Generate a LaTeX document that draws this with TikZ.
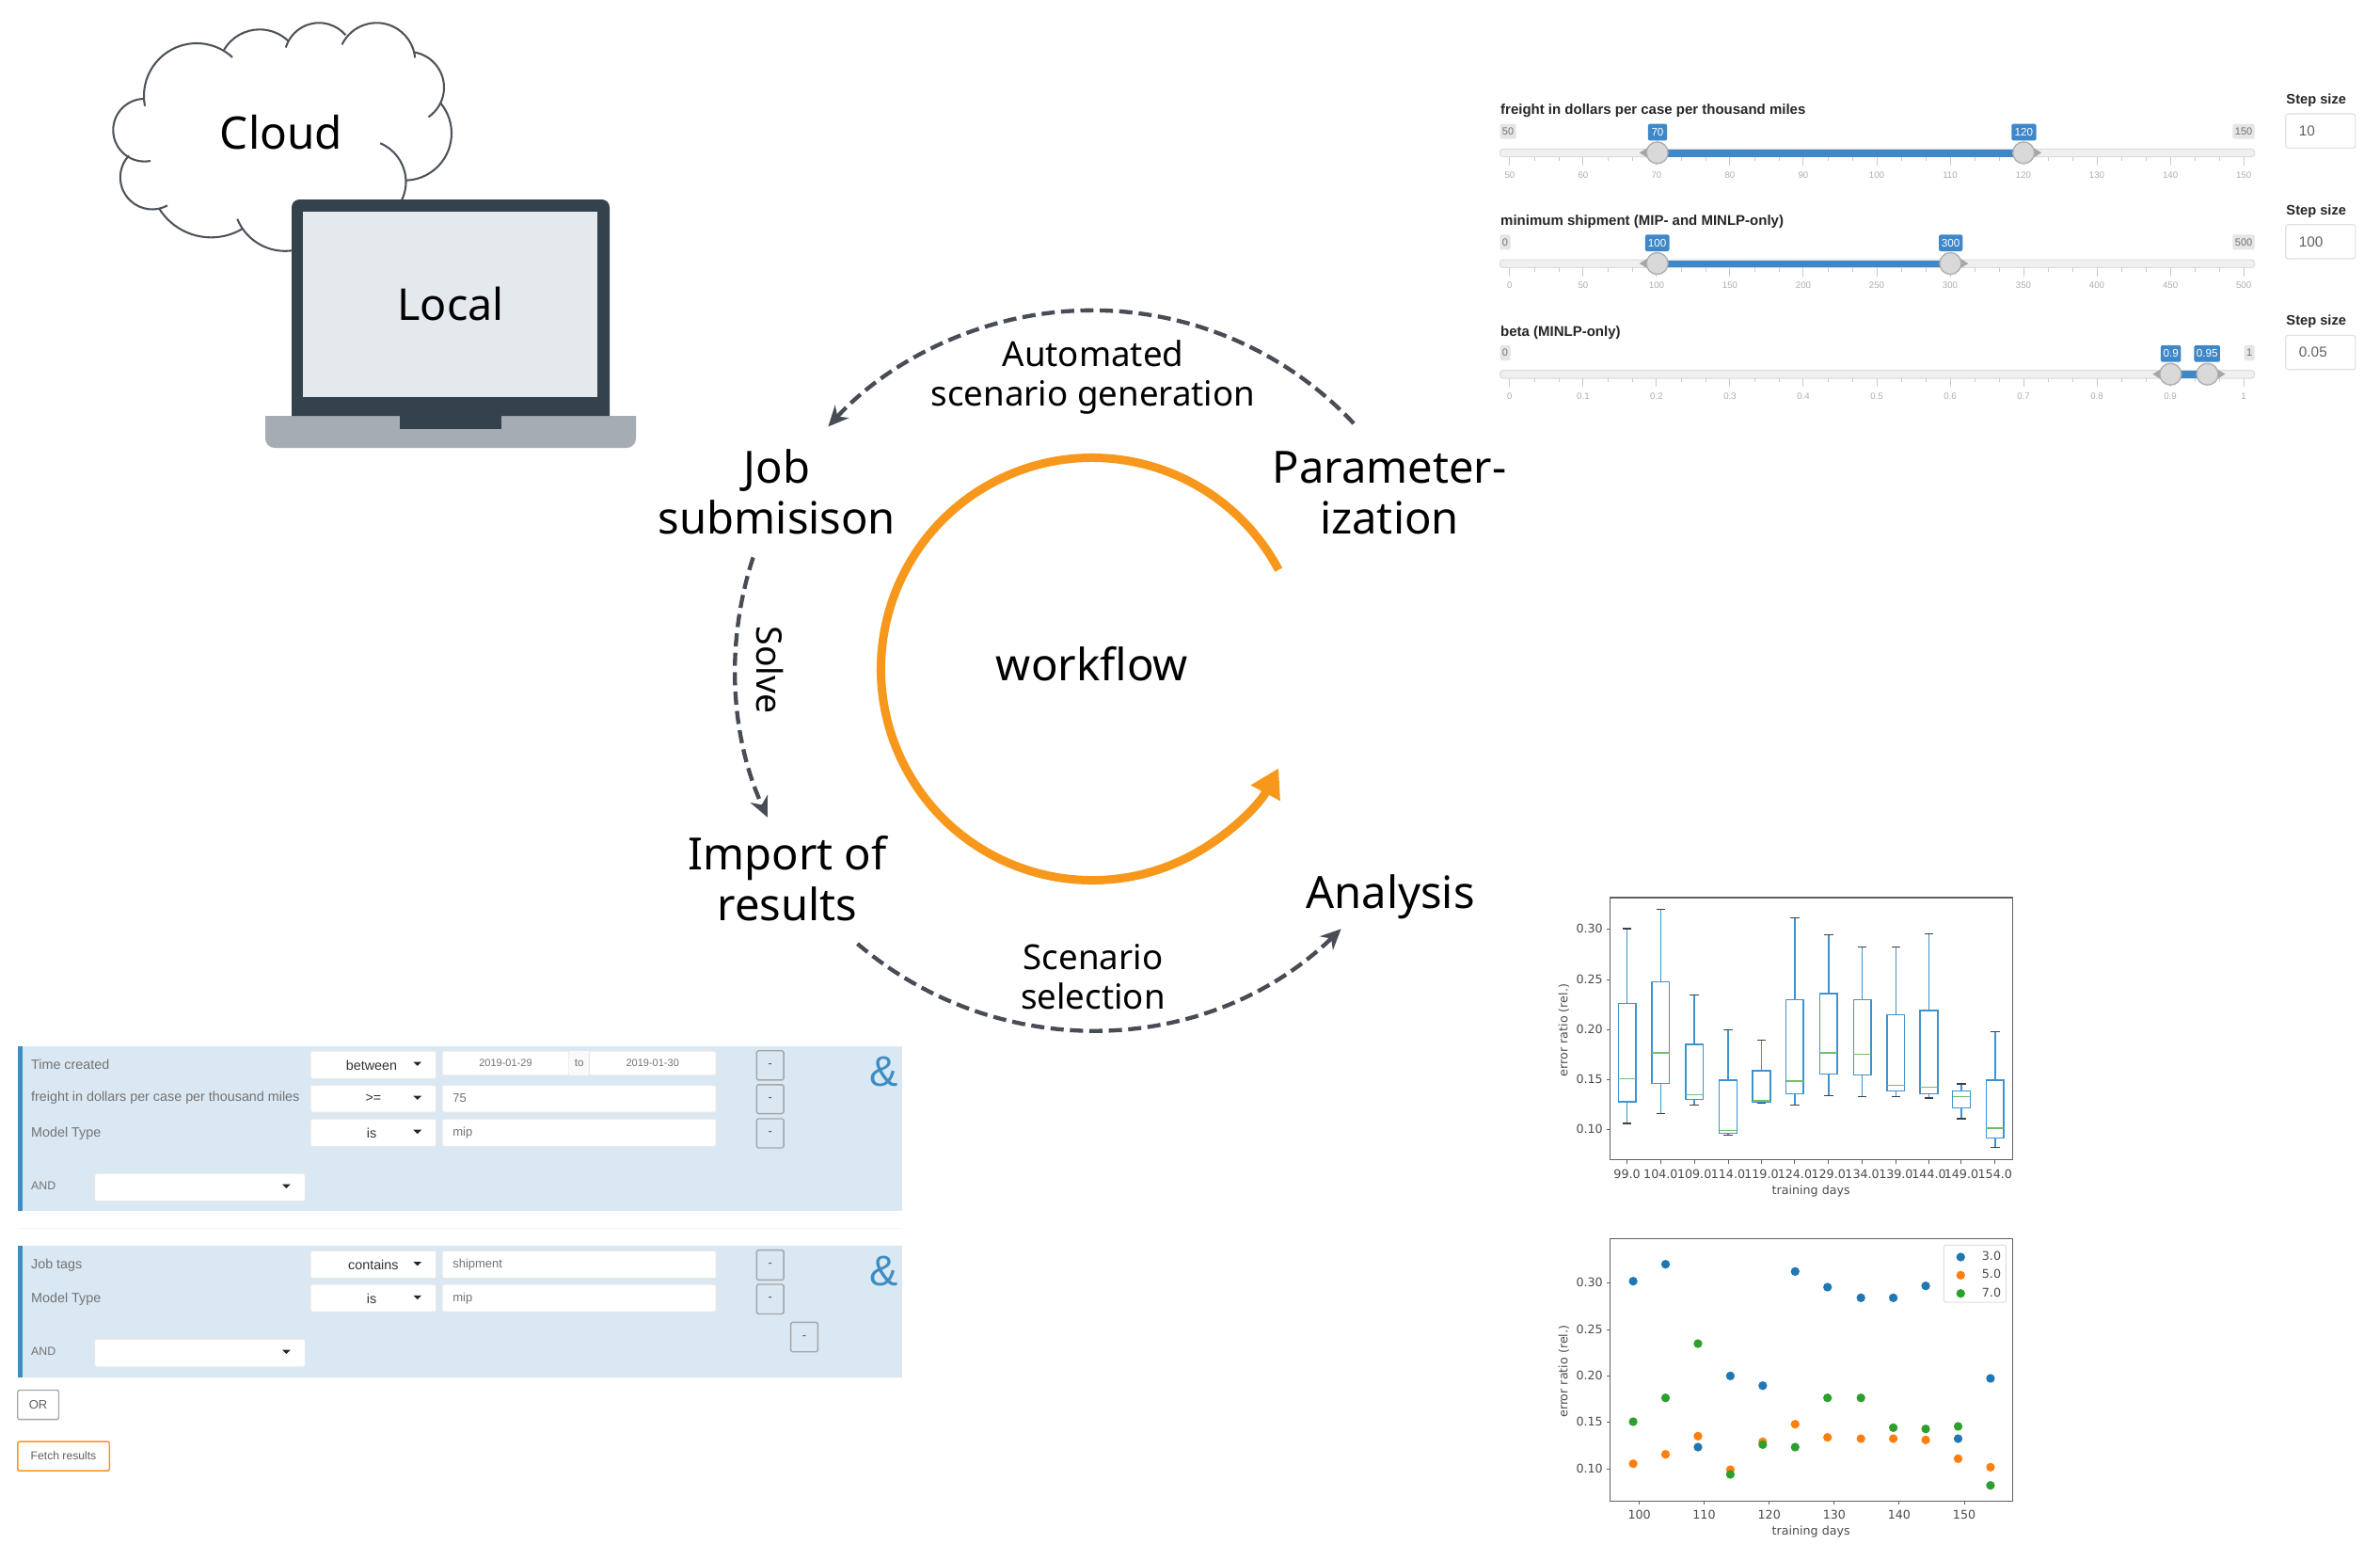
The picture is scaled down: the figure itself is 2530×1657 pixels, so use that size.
\documentclass[tikz,border=0pt]{standalone}
\usepackage{fontspec}
\setmainfont{Noto Sans}
\newfontfamily\uifont{Liberation Sans}
\newfontfamily\plotfont{DejaVu Sans}
\usetikzlibrary{arrows.meta}
\definecolor{cloudc}{HTML}{4D525B}
\definecolor{lapdark}{HTML}{33424D}
\definecolor{lapbase}{HTML}{A5ACB3}
\definecolor{lapscreen}{HTML}{E4E9ED}
\definecolor{orangeflow}{HTML}{F7981D}
\definecolor{dashc}{HTML}{474C55}
\definecolor{panelc}{HTML}{D9E8F3}
\definecolor{barc}{HTML}{3D8DC5}
\definecolor{sblue}{HTML}{3E87C8}
\definecolor{stick}{HTML}{B5D0E8}
\definecolor{boxc}{HTML}{3F93CC}
\definecolor{medc}{HTML}{6CC06C}
\definecolor{ptblue}{HTML}{1F77B4}
\definecolor{ptorange}{HTML}{FF7F0E}
\definecolor{ptgreen}{HTML}{2CA02C}
\newcommand{\fs}[1]{\fontsize{#1}{#1}\selectfont}
\tikzset{
  flowtext/.style={inner sep=0pt,align=center,font=\fontsize{14.15}{16.2}\selectfont},
  arctext/.style={inner sep=0pt,align=center,font=\fontsize{11}{12.6}\selectfont},
  cloudline/.style={draw=cloudc,line width=.62pt},
  flowdash/.style={draw=dashc,line width=1.3pt,dash pattern=on 4.2pt off 2pt,-{Stealth[length=6.5pt,width=6pt]}},
  floworange/.style={draw=orangeflow,line width=2.7pt,-{Triangle[length=9pt,width=10pt]}},
  ui/.style={inner sep=0pt,font=\uifont\fs{#1}},
  ui/.default=3.9,
  ticklab/.style={inner sep=0pt,text=black!32,font=\uifont\fs{2.9}},
  minmax/.style={fill=black!10,rounded corners=.6pt},
  vallab/.style={fill=sblue,rounded corners=.6pt},
  trackst/.style={fill=black!6,draw=black!14,line width=.3pt,rounded corners=1pt},
  thumbst/.style={fill=black!15,draw=black!32,line width=.4pt},
  inbox/.style={fill=white,draw=black!9,line width=.35pt,rounded corners=.5pt},
  btnst/.style={draw=black!35,line width=.4pt,rounded corners=.5pt},
  pboxst/.style={draw=boxc,line width=.45pt},
  pcap/.style={draw=black!75,line width=.4pt},
  pmed/.style={draw=medc,line width=.45pt},
  pframe/.style={draw=black!62,line width=.45pt},
  ptick/.style={draw=black!62,line width=.3pt},
  plotlab/.style={inner sep=0pt,text=black!70,font=\plotfont\fs{3.8}},
  dot/.style={fill=#1}
}
% one lobe of the cloud: centre x, centre y, radius in pixels, start and end angle
\newcommand{\lobe}[5]{%
  \pgfmathsetmacro\lobr{#3*.3}%
  \draw[cloudline] ([shift={(#4:\lobr pt)}]#1,#2) arc[start angle=#4,end angle=#5,radius=\lobr pt];}
% slider parts, in the coordinates of the slider scope
\newcommand{\sliderbase}[6]{%
  \node[ui=4.5,anchor=west,text=black!85] (#1-title) at (40,144) {\bfseries #2};
  \fill[minmax] (40,185) rectangle (#3,233);
  \node[ui=3.3,text=black!55] (#1-min) at ({(40+#3)/2},209) {#4};
  \fill[minmax] (#5,185) rectangle (1350,233);
  \node[ui=3.3,text=black!55] (#1-max) at ({(#5+1350)/2},209) {#6};
  \draw[trackst] (40,265) rectangle (1350,290);
  \foreach \i in {0,...,9}{\foreach \j in {1,2}{
    \draw[black!20,line width=.2pt] ({57+127.4*\i+42.47*\j},290) -- ++(0,13);}}
  \foreach \i in {0,...,10}{
    \draw[stick,line width=.3pt] ({57+127.4*\i},290) -- ++(0,28);}
}
\newcommand{\stepbox}[2]{%
  \node[ui=4.4,anchor=west,text=black!85] (#1-steplab) at (1404,110) {\bfseries Step size};
  \draw[fill=white,draw=black!12,line width=.35pt,rounded corners=.8pt] (1404,153) rectangle (1525,262);
  \node[ui=4.6,anchor=west,text=black!62] (#1-stepval) at (1426,208) {#2};
}
\newcommand{\sthumb}[2]{% x, direction
  \fill[black!35] ({#1+#2*14},258) -- ({#1+#2*14},296) -- ({#1+#2*31},277) -- cycle;
  \draw[thumbst] (#1,277) circle[radius=3.45pt];
}
\newcommand{\svalue}[3]{%
  \fill[vallab] (#1,185) rectangle (#2,238);
  \node[ui=3.5,text=white] at ({(#1+#2)/2},211) {#3};
}
% filter parts
\newcommand{\dropt}[2]{\fill[black!85] ({#1-7},{#2-6}) -- ({#1+7},{#2-6}) -- (#1,{#2+6}) -- cycle;}
\begin{document}
\begin{tikzpicture}[x=.3pt,y=-.3pt]
\useasboundingbox (0,0) rectangle (2530,1657);
\fill[white] (0,0) rectangle (2530,1657);

% ---------- cloud and laptop ----------
\lobe{209}{102}{56}{191}{47.2}
\lobe{276}{75.3}{44}{149.6}{46}
\lobe{339.2}{61.3}{37}{163}{40.6}
\lobe{400.4}{65.3}{41}{154}{5.4}
\lobe{434}{93}{38}{81.5}{-55.6}
\lobe{430}{141.7}{50}{40.3}{-87.5}
\lobe{387}{193.3}{44.5}{67.2}{-28}
\lobe{303}{212}{54.8}{202.2}{280}
\lobe{224.4}{187.3}{65}{212.2}{300.7}
\lobe{161.9}{188.5}{34}{137}{298.3}
\lobe{153.6}{138.3}{33.3}{90}{281}
\node[inner sep=0pt,font=\fs{14.3}] (cloud) at (299,141) {Cloud};
\fill[lapbase] (282,442) [rounded corners=3pt] -- (282,476) -- (676,476) [sharp corners] -- (676,442) -- cycle;
\fill[lapdark] (310,442) [rounded corners=2.5pt] -- (310,212) -- (648,212) [sharp corners] -- (648,442) -- cycle;
\fill[lapdark] (425,442) rectangle (533,456);
\fill[lapscreen] (322,225) rectangle (635,422);
\node[inner sep=0pt,font=\fs{14}] (local) at (479,323) {Local};

% ---------- workflow ----------
\coordinate (hub) at (1161,711);
\node[inner sep=0pt,font=\fs{14.2}] (workflow) at (1161,706) {workflow};
\node[flowtext] (job) at (826,523) {Job\\submisison};
\node[flowtext] (param) at (1477,524) {Parameter-\\ization};
\node[flowtext] (import) at (837,934) {Import of\\results};
\node[flowtext] (analysis) at (1478,953) {Analysis};
\node[arctext] (autogen) at (1162,401) {Automated\\scenario generation};
\node[arctext] (scensel) at (1162,1038) {Scenario\\selection};
\node[inner sep=0pt,rotate=-90,font=\fs{11.2}] (solve) at (818,712) {Solve};
\draw[floworange] ([shift={(28:67.35pt)}]hub) arc[start angle=28,end angle=332,radius=67.35pt];
\draw[flowdash] ([shift={(-38,-74)}]param.center) arc[start angle=43.2,end angle=137.5,radius=114.3pt];
\draw[flowdash] ([shift={(-25.4,69.4)}]job.center) arc[start angle=161.8,end angle=204.5,radius=114pt];
\draw[flowdash] ([shift={(74.5,69)}]import.center) arc[start angle=229.5,end angle=314,radius=114.75pt];

% ---------- sliders ----------
\begin{scope}[xshift=471pt,yshift=-21pt,x=.18371pt,y=-.1pt]
  \sliderbase{s1}{freight in dollars per case per thousand miles}{68}{50}{1312}{150}
  \fill[sblue] (313,267) rectangle (949,290);
  \foreach \i/\t in {0/50,1/60,2/70,3/80,4/90,5/100,6/110,7/120,8/130,9/140,10/150}{
    \node[ticklab] at ({57+127.4*\i},347) {\t};}
  \sthumb{313}{-1}\sthumb{949}{1}
  \svalue{297}{330}{70}\svalue{928}{971}{120}
  \stepbox{s1}{10}
\end{scope}
\begin{scope}[xshift=471pt,yshift=-56.3pt,x=.18371pt,y=-.1pt]
  \sliderbase{s2}{minimum shipment (MIP- and MINLP-only)}{58}{0}{1312}{500}
  \fill[sblue] (313,267) rectangle (822,290);
  \foreach \i/\t in {0/0,1/50,2/100,3/150,4/200,5/250,6/300,7/350,8/400,9/450,10/500}{
    \node[ticklab] at ({57+127.4*\i},347) {\t};}
  \sthumb{313}{-1}\sthumb{822}{1}
  \svalue{292}{334}{100}\svalue{802}{843}{300}
  \stepbox{s2}{100}
\end{scope}
\begin{scope}[xshift=471pt,yshift=-91.6pt,x=.18371pt,y=-.1pt]
  \sliderbase{s3}{beta (MINLP-only)}{58}{0}{1332}{1}
  \fill[sblue] (1204,267) rectangle (1268,290);
  \foreach \i/\t in {0/0,1/0.1,2/0.2,3/0.3,4/0.4,5/0.5,6/0.6,7/0.7,8/0.8,9/0.9,10/1}{
    \node[ticklab] at ({57+127.4*\i},347) {\t};}
  \sthumb{1204}{-1}\sthumb{1268}{1}
  \svalue{1187}{1222}{0.9}\svalue{1245}{1290}{0.95}
  \stepbox{s3}{0.05}
\end{scope}

% ---------- filters ----------
\begin{scope}[yshift=-327pt,x=.1875pt,y=-.10714pt]
  \fill[panelc] (30,62) rectangle (1534,552);
  \fill[barc] (30,62) rectangle (38,552);
  \fill[black!4] (30,601) rectangle (1534,606);
  \fill[panelc] (30,655) rectangle (1534,1046);
  \fill[barc] (30,655) rectangle (38,1046);
  % panel 1
  \node[ui=4.3,anchor=west,text=black!55] (f1a) at (52,115) {Time created};
  \node[ui=4.3,anchor=west,text=black!55] (f1b) at (52,216) {freight in dollars per case per thousand miles};
  \node[ui=4.3,anchor=west,text=black!55] (f1c) at (52,320) {Model Type};
  \draw[inbox] (528,76) rectangle (742,158);
  \draw[inbox] (528,177) rectangle (742,258);
  \draw[inbox] (528,278) rectangle (742,360);
  \node[ui=4.3,text=black!80] (s1a) at (632,118) {between};
  \node[ui=4.3,text=black!80] (s1b) at (635,216) {>=};
  \node[ui=4.3,text=black!80] (s1c) at (632,319) {is};
  \dropt{710}{114}\dropt{710}{215}\dropt{710}{316}
  \draw[inbox] (752,76) rectangle (968,148);
  \fill[black!2] (968,76) rectangle (1002,148);
  \draw[inbox] (1002,76) rectangle (1218,148);
  \node[ui=3.3,text=black!55] (d1) at (860,112) {2019-01-29};
  \node[ui=3.5,text=black!55] (dto) at (985,112) {to};
  \node[ui=3.3,text=black!55] (d2) at (1110,112) {2019-01-30};
  \draw[inbox] (752,177) rectangle (1218,258);
  \draw[inbox] (752,278) rectangle (1218,360);
  \node[ui=3.9,anchor=west,text=black!55] (v1) at (769,217) {75};
  \node[ui=3.9,anchor=west,text=black!55] (v2) at (769,319) {mip};
  \draw[btnst] (1287,75) rectangle (1333,162);
  \draw[btnst] (1287,176) rectangle (1333,262);
  \draw[btnst] (1287,277) rectangle (1333,364);
  \node[ui=3.8,text=black!70] (b1) at (1310,119) {-};
  \node[ui=3.8,text=black!70] (b2) at (1310,219) {-};
  \node[ui=3.8,text=black!70] (b3) at (1310,321) {-};
  \node[ui=13.6,text=barc] (amp1) at (1503,136) {\&};
  \node[ui=3.7,anchor=west,text=black!55] (and1) at (52,476) {AND};
  \draw[inbox] (161,440) rectangle (519,522);
  \dropt{487}{478}
  % panel 2
  \node[ui=4.3,anchor=west,text=black!55] (f2a) at (52,712) {Job tags};
  \node[ui=4.3,anchor=west,text=black!55] (f2b) at (52,813) {Model Type};
  \draw[inbox] (528,670) rectangle (742,752);
  \draw[inbox] (528,770) rectangle (742,852);
  \node[ui=4.3,text=black!80] (s2a) at (635,712) {contains};
  \node[ui=4.3,text=black!80] (s2b) at (632,812) {is};
  \dropt{710}{709}\dropt{710}{809}
  \draw[inbox] (752,670) rectangle (1218,752);
  \draw[inbox] (752,770) rectangle (1218,852);
  \node[ui=3.9,anchor=west,text=black!55] (v3) at (769,711) {shipment};
  \node[ui=3.9,anchor=west,text=black!55] (v4) at (769,812) {mip};
  \draw[btnst] (1287,668) rectangle (1333,757);
  \draw[btnst] (1287,770) rectangle (1333,858);
  \draw[btnst] (1345,883) rectangle (1391,971);
  \node[ui=3.8,text=black!70] (b4) at (1310,714) {-};
  \node[ui=3.8,text=black!70] (b5) at (1310,814) {-};
  \node[ui=3.8,text=black!70] (b6) at (1368,927) {-};
  \node[ui=13.6,text=barc] (amp2) at (1503,730) {\&};
  \node[ui=3.7,anchor=west,text=black!55] (and2) at (52,969) {AND};
  \draw[inbox] (161,933) rectangle (519,1016);
  \dropt{487}{971}
  % buttons
  \draw[draw=black!35,fill=white,line width=.4pt,rounded corners=.6pt] (30,1085) rectangle (100,1172);
  \node[ui=3.9,text=black!62] (orb) at (65,1129) {OR};
  \draw[draw=orangeflow,fill=white,line width=.45pt,rounded corners=.6pt] (30,1238) rectangle (186,1325);
  \node[ui=3.65,text=black!62] (fetch) at (108,1281) {Fetch results};
\end{scope}

% ---------- box plot ----------
\begin{scope}[xshift=492pt,yshift=-282pt,x=.10331pt,y=-.1pt]
  \foreach \xc/\wl/\qa/\md/\qb/\wh in {
    260/762/693/620/380/141,364/730/635/537/311/80,468/704/685/670/510/352,
    572/800/793/785/624/464,675/697/693/690/594/496,778/704/667/627/367/106,
    882/673/604/537/348/160,986/677/608/541/367/199,1090/677/658/640/416/199,
    1192/681/667/647/402/157,1292/747/712/677/658/636,1396/838/808/777/624/470}{
    \draw[pboxst] (\xc,\wl) -- (\xc,\qa);
    \draw[pboxst] (\xc,\qb) -- (\xc,\wh);
    \draw[pboxst] ({\xc-27},\qa) rectangle ({\xc+27},\qb);
    \draw[pmed] ({\xc-27},\md) -- ({\xc+27},\md);
    \draw[pcap] ({\xc-14},\wl) -- ({\xc+14},\wl);
    \draw[pcap] ({\xc-14},\wh) -- ({\xc+14},\wh);
    \draw[ptick] (\xc,878) -- (\xc,890);
  }
  \foreach \xc/\t in {260/99.0,364/104.0,468/109.0,572/114.0,675/119.0,778/124.0,882/129.0,986/134.0,1090/139.0,1192/144.0,1292/149.0,1396/154.0}{
    \node[plotlab] at (\xc,923) {\t};}
  \foreach \yc/\t in {141/0.30,303/0.25,463/0.20,622/0.15,781/0.10}{
    \draw[ptick] (198,\yc) -- (208,\yc);
    \node[plotlab,anchor=east] at (187,\yc) {\t};}
  \draw[pframe] (208,42) rectangle (1450,878);
  \node[plotlab] (bxlab) at (828,977) {training days};
  \node[plotlab,rotate=90] (bylab) at (65,465) {error ratio (rel.)};
\end{scope}

% ---------- scatter plot ----------
\begin{scope}[xshift=492pt,yshift=-390pt,x=.10331pt,y=-.1pt]
  \foreach \xc/\yc in {279/185,379/131,479/714,579/487,679/518,779/154,879/204,982/238,1082/238,1182/200,1282/687,1382/495}{
    \fill[dot=ptblue] (\xc,\yc) circle[radius=1.4pt];}
  \foreach \xc/\yc in {279/767,379/737,479/679,579/786,679/697,779/641,879/683,982/687,1082/687,1182/691,1282/751,1382/778}{
    \fill[dot=ptorange] (\xc,\yc) circle[radius=1.4pt];}
  \foreach \xc/\yc in {279/633,379/557,479/384,579/801,679/706,779/714,879/557,982/557,1082/652,1182/656,1282/648,1382/836}{
    \fill[dot=ptgreen] (\xc,\yc) circle[radius=1.4pt];}
  \foreach \xc/\t in {298/100,498/110,699/120,900/130,1100/140,1301/150}{
    \draw[ptick] (\xc,886) -- (\xc,898);
    \node[plotlab] at (\xc,930) {\t};}
  \foreach \yc/\t in {190/0.30,339/0.25,487/0.20,634/0.15,783/0.10}{
    \draw[ptick] (198,\yc) -- (208,\yc);
    \node[plotlab,anchor=east] at (187,\yc) {\t};}
  \draw[pframe] (208,50) rectangle (1450,886);
  \draw[draw=black!13,fill=white,line width=.3pt,rounded corners=.6pt] (1238,70) rectangle (1430,252);
  \fill[dot=ptblue] (1290,108) circle[radius=1.4pt];
  \fill[dot=ptorange] (1290,166) circle[radius=1.4pt];
  \fill[dot=ptgreen] (1290,224) circle[radius=1.4pt];
  \node[plotlab] (lg3) at (1385,105) {3.0};
  \node[plotlab] (lg5) at (1385,163) {5.0};
  \node[plotlab] (lg7) at (1385,221) {7.0};
  \node[plotlab] (sxlab) at (828,985) {training days};
  \node[plotlab,rotate=90] (sylab) at (65,473) {error ratio (rel.)};
\end{scope}
\end{tikzpicture}
\end{document}
